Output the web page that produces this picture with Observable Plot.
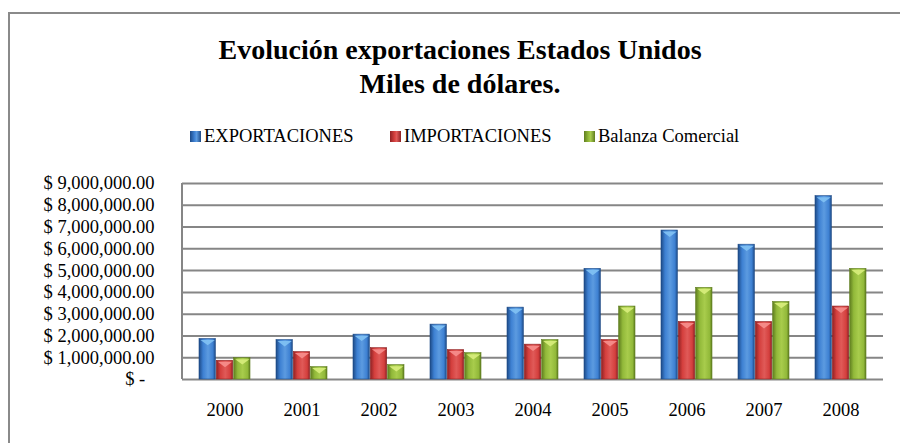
<!DOCTYPE html>
<html>
<head>
<meta charset="utf-8">
<script src="https://cdn.jsdelivr.net/npm/d3@7"></script>
<script src="https://cdn.jsdelivr.net/npm/@observablehq/plot@0.6"></script>
<style>
  html, body { margin: 0; padding: 0; background: #fff; }
  #wrap { position: relative; width: 900px; height: 443px; overflow: hidden; font-family: "Liberation Serif", "Times New Roman", serif; }
  #border { position: absolute; left: 8px; top: 12px; width: 1000px; height: 1000px; border-top: 2px solid #8a8a8a; border-left: 2px solid #8a8a8a; }
  #header { position: relative; height: 160px; }
  #title { position: absolute; top: 33px; left: 0; width: 920px; text-align: center; font-family: "Liberation Serif", "Times New Roman", serif; font-weight: bold; font-size: 28px; line-height: 34px; color: #000; }
  .leg { position: absolute; top: 124px; height: 24px; line-height: 24px; font-family: "Liberation Serif", "Times New Roman", serif; font-size: 18.5px; color: #000; white-space: nowrap; }
  .leg .sw { display: inline-block; width: 11px; height: 11px; margin-right: 3px; vertical-align: 0px; }
  #chart svg { display: block; }
</style>
</head>
<body>
<div id="wrap">
  <div id="border"></div>
  <div id="header">
    <div id="title">Evolución exportaciones Estados Unidos<br>Miles de dólares.</div>
    <div id="legend"></div>
  </div>
  <div id="chart"></div>
</div>
<script>
const years = ["2000","2001","2002","2003","2004","2005","2006","2007","2008"];
const seriesNames = ["EXPORTACIONES","IMPORTACIONES","Balanza Comercial"];
const exportaciones = [1860000, 1810000, 2060000, 2520000, 3300000, 5080000, 6840000, 6190000, 8420000];
const importaciones = [860000, 1260000, 1440000, 1350000, 1600000, 1810000, 2640000, 2640000, 3350000];
const balanza = [980000, 570000, 660000, 1210000, 1810000, 3350000, 4210000, 3560000, 5080000];
const yTicks = [0, 1000000, 2000000, 3000000, 4000000, 5000000, 6000000, 7000000, 8000000, 9000000];

const seriesValues = [exportaciones, importaciones, balanza];
const palette = [
  {id: "gBlue",  edge: "#1d4a86", mid: "#3d80d2", light: "#5c9be0", tip: "#7fc0f2"},
  {id: "gRed",   edge: "#8e2224", mid: "#d43f3d", light: "#e05a58", tip: "#f58c8a"},
  {id: "gGreen", edge: "#5f7d1f", mid: "#92b93a", light: "#a8cc4c", tip: "#d6ec7a"}
];

// legend
const legend = document.getElementById("legend");
const legX = [190, 390, 584];
seriesNames.forEach((name, i) => {
  const p = palette[i];
  const d = document.createElement("div");
  d.className = "leg";
  d.style.left = legX[i] + "px";
  d.innerHTML = `<span class="sw" style="background:linear-gradient(90deg, ${p.edge}, ${p.mid} 40%, ${p.light} 60%, ${p.edge});"></span>${name}`;
  legend.appendChild(d);
});

const data = [];
seriesNames.forEach((s, i) => years.forEach((y, j) => data.push({year: y, series: s, si: i, value: seriesValues[i][j]})));

const W = 900, H = 283;
const mL = 182, mR = 17, mT = 23, mB = 64;
const pInner = 0.333, pOuter = 0.1667;
const bw = Plot.scale({x: {type: "band", domain: years, range: [mL, W - mR], paddingInner: pInner, paddingOuter: pOuter}}).bandwidth;
const third = bw / 3;

const bevel = {
  draw(ctx, size) {
    const r = Math.sqrt(size / Math.PI);
    ctx.moveTo(-r, 0);
    ctx.lineTo(r, 0);
    ctx.lineTo(0, r * 0.75);
    ctx.closePath();
  }
};

const defsMark = () => {
  const defs = d3.create("svg:defs");
  palette.forEach(p => {
    const g = defs.append("linearGradient").attr("id", p.id).attr("x1", "0").attr("x2", "1").attr("y1", "0").attr("y2", "0");
    g.append("stop").attr("offset", "0%").attr("stop-color", p.edge);
    g.append("stop").attr("offset", "25%").attr("stop-color", p.mid);
    g.append("stop").attr("offset", "55%").attr("stop-color", p.light);
    g.append("stop").attr("offset", "85%").attr("stop-color", p.mid);
    g.append("stop").attr("offset", "100%").attr("stop-color", p.edge);
  });
  const f = defs.append("filter").attr("id", "shadow").attr("x", "-20%").attr("y", "-5%").attr("width", "140%").attr("height", "120%");
  f.append("feDropShadow").attr("dx", 1).attr("dy", 2).attr("stdDeviation", 1.5).attr("flood-color", "#000").attr("flood-opacity", 0.35);
  return defs.node();
};

const leftLine = (index, scales, values, dims) => {
  const yS = scales.y;
  return d3.create("svg:line")
    .attr("x1", dims.marginLeft).attr("x2", dims.marginLeft)
    .attr("y1", yS(yTicks[yTicks.length - 1])).attr("y2", yS(0))
    .attr("stroke", "#868686").attr("stroke-width", 2).node();
};

const marks = [defsMark,
  Plot.ruleY(yTicks, {stroke: "#868686", strokeWidth: 2}),
  leftLine
];
seriesNames.forEach((s, i) => {
  const p = palette[i];
  const sub = data.filter(d => d.si === i);
  marks.push(Plot.barY(sub, {
    x: "year", y: "value", fill: `url(#${p.id})`,
    insetLeft: i * third, insetRight: (2 - i) * third,
    stroke: p.edge, strokeWidth: 0.6, style: "filter:url(#shadow)"
  }));
});
seriesNames.forEach((s, i) => {
  const p = palette[i];
  const sub = data.filter(d => d.si === i);
  marks.push(Plot.dot(sub, {
    x: "year", y: "value", dx: (i - 1) * third, dy: 1,
    symbol: bevel, r: third / 2 - 1.5, fill: p.tip, stroke: "none", fillOpacity: 0.95
  }));
});

const fmt = d3.format(",.2f");
const chart = Plot.plot({
  width: W, height: H,
  marginLeft: mL, marginRight: mR, marginTop: mT, marginBottom: mB,
  style: {fontFamily: "'Liberation Serif', 'Times New Roman', serif", fontSize: "18.5px", color: "#000", background: "transparent"},
  x: {type: "band", domain: years, paddingInner: pInner, paddingOuter: pOuter, tickSize: 0, tickPadding: 23, label: null},
  y: {domain: [0, 9000000], ticks: yTicks, tickSize: 0, tickPadding: 28, label: null,
      tickFormat: d => d === 0 ? "$ -\u2007" : "$ " + fmt(d)},
  marks
});
document.getElementById("chart").appendChild(chart);
</script>
</body>
</html>
